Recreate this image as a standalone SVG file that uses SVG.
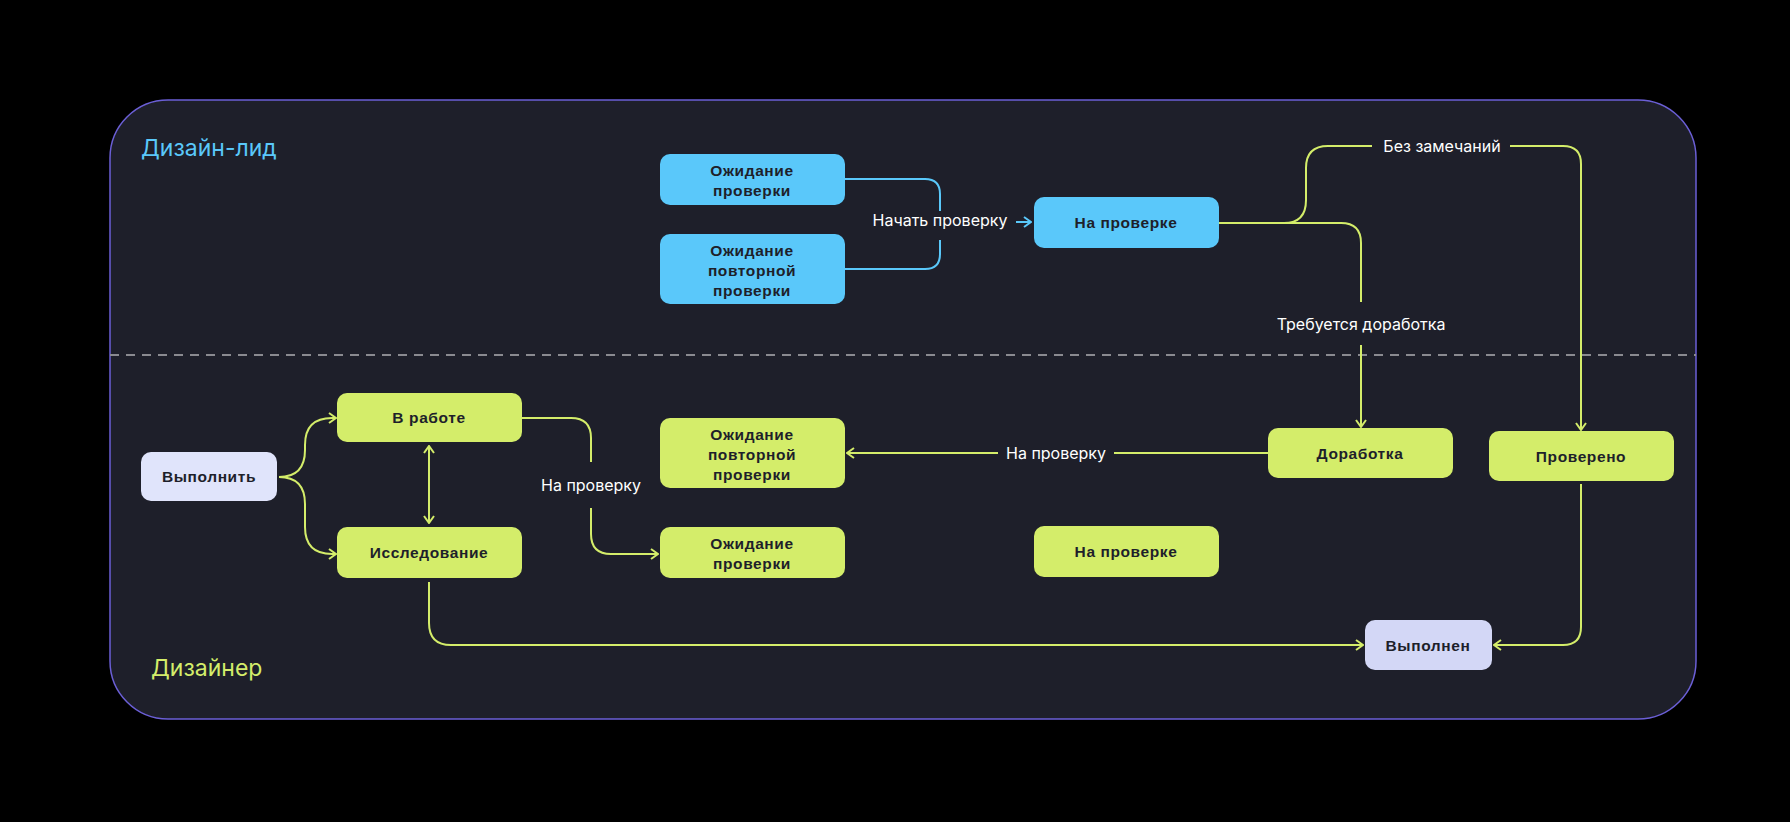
<svg xmlns="http://www.w3.org/2000/svg" width="1790" height="822" viewBox="0 0 1790 822">
<defs>
<style>
.n{stroke:none}
.b{fill:#5ac8fa}.g{fill:#d4ed6a}.v{fill:#e0e4fb}.p{fill:#d3d7f6}
.t{font-family:"Liberation Sans",Arial,sans-serif;font-weight:bold;font-size:15.5px;fill:#1e1f2a;text-anchor:middle;letter-spacing:0.6px}
.l{font-family:Inter,"Liberation Sans",sans-serif;font-size:16px;fill:#ffffff;text-anchor:middle}
.cg{fill:none;stroke:#d4ed6a;stroke-width:2}
.cb{fill:none;stroke:#5ac8fa;stroke-width:2}
</style>
<marker id="ag" viewBox="0 0 12 12" refX="11" refY="6" markerWidth="12" markerHeight="12" markerUnits="userSpaceOnUse" orient="auto-start-reverse"><path d="M4,1 L11,6 L4,11" fill="none" stroke="#d4ed6a" stroke-width="2"/></marker>
<marker id="ab" viewBox="0 0 12 12" refX="11" refY="6" markerWidth="12" markerHeight="12" markerUnits="userSpaceOnUse" orient="auto"><path d="M4,1 L11,6 L4,11" fill="none" stroke="#5ac8fa" stroke-width="2"/></marker>
</defs>
<rect width="1790" height="822" fill="#000"/>
<rect x="110" y="100" width="1586" height="619" rx="58" fill="#1e1f2a" stroke="#6b5fd6" stroke-width="1.5"/>
<line x1="110" y1="355" x2="1696" y2="355" stroke="#8a8a90" stroke-width="2" stroke-dasharray="9,7"/>
<text x="141" y="156" font-family="Inter,'Liberation Sans',sans-serif" font-size="23" fill="#5ac8fa">Дизайн-лид</text>
<text x="151" y="676" font-family="Inter,'Liberation Sans',sans-serif" font-size="23" fill="#d4ed6a">Дизайнер</text>
<g id="connectors">
<path class="cb" d="M845,179 H925 Q940,179 940,194 V211"/>
<path class="cb" d="M845,269 H925 Q940,269 940,254 V240"/>
<path class="cb" d="M1016,222 H1031" marker-end="url(#ab)"/>
<text class="l" x="940" y="226">Начать проверку</text>
<path class="cg" d="M1219,223 H1284 Q1306,223 1306,200 V168 Q1306,146 1328,146 H1372"/>
<text class="l" x="1442" y="152">Без замечаний</text>
<path class="cg" d="M1510,146 H1563 Q1581,146 1581,164 V430" marker-end="url(#ag)"/>
<path class="cg" d="M1219,223 H1341 Q1361,223 1361,243 V302"/>
<text class="l" x="1361" y="330">Требуется доработка</text>
<path class="cg" d="M1361,345 V427" marker-end="url(#ag)"/>
<path class="cg" d="M1268,453 H1114"/>
<text class="l" x="1056" y="459">На проверку</text>
<path class="cg" d="M998,453 H847" marker-end="url(#ag)"/>
<path class="cg" d="M279,477 Q305,477 305,450 V445 Q305,418 332,418 H336" marker-end="url(#ag)"/>
<path class="cg" d="M279,477 Q305,477 305,504 V527 Q305,554 332,554 H336" marker-end="url(#ag)"/>
<path class="cg" d="M429,446 V523" marker-start="url(#ag)" marker-end="url(#ag)"/>
<path class="cg" d="M522,418 H571 Q591,418 591,438 V462"/>
<text class="l" x="591" y="491">На проверку</text>
<path class="cg" d="M591,508 V534 Q591,554 611,554 H658" marker-end="url(#ag)"/>
<path class="cg" d="M429,582 V623 Q429,645 451,645 H1363" marker-end="url(#ag)"/>
<path class="cg" d="M1581,484 V627 Q1581,645 1563,645 H1494" marker-end="url(#ag)"/>
</g>
<g id="n1"><rect class="b" x="660" y="154" width="185" height="51" rx="10"/><text class="t" x="752" y="176">Ожидание</text><text class="t" x="752" y="196">проверки</text></g>
<g id="n2"><rect class="b" x="660" y="234" width="185" height="70" rx="10"/><text class="t" x="752" y="256">Ожидание</text><text class="t" x="752" y="276">повторной</text><text class="t" x="752" y="296">проверки</text></g>
<g id="n3"><rect class="b" x="1034" y="197" width="185" height="51" rx="10"/><text class="t" x="1126" y="228">На проверке</text></g>
<g id="n4"><rect class="g" x="337" y="393" width="185" height="49" rx="10"/><text class="t" x="429" y="423">В работе</text></g>
<g id="n5"><rect class="v" x="141" y="452" width="136" height="49" rx="10"/><text class="t" x="209" y="482">Выполнить</text></g>
<g id="n6"><rect class="g" x="337" y="527" width="185" height="51" rx="10"/><text class="t" x="429" y="558">Исследование</text></g>
<g id="n7"><rect class="g" x="660" y="418" width="185" height="70" rx="10"/><text class="t" x="752" y="440">Ожидание</text><text class="t" x="752" y="460">повторной</text><text class="t" x="752" y="480">проверки</text></g>
<g id="n8"><rect class="g" x="660" y="527" width="185" height="51" rx="10"/><text class="t" x="752" y="549">Ожидание</text><text class="t" x="752" y="569">проверки</text></g>
<g id="n9"><rect class="g" x="1034" y="526" width="185" height="51" rx="10"/><text class="t" x="1126" y="557">На проверке</text></g>
<g id="n10"><rect class="g" x="1268" y="428" width="185" height="50" rx="10"/><text class="t" x="1360" y="459">Доработка</text></g>
<g id="n11"><rect class="g" x="1489" y="431" width="185" height="50" rx="10"/><text class="t" x="1581" y="462">Проверено</text></g>
<g id="n12"><rect class="p" x="1365" y="620" width="127" height="50" rx="10"/><text class="t" x="1428" y="651">Выполнен</text></g>
</svg>
